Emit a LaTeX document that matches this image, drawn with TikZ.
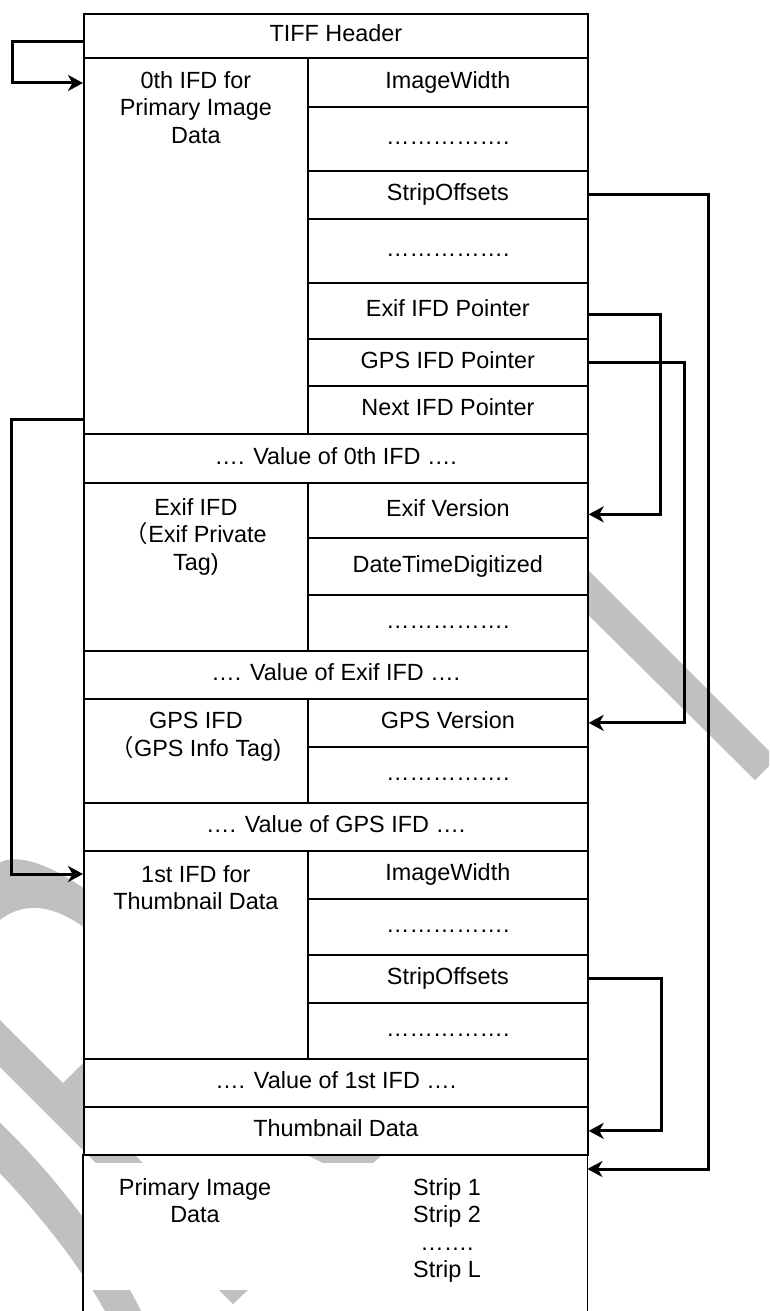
\documentclass[tikz,border=0pt]{standalone}
\usepackage{fontspec}
\setmainfont{Liberation Sans}
\newfontfamily\cjk{Noto Sans CJK SC}
\usetikzlibrary{arrows.meta,calc}
\definecolor{wmgray}{RGB}{192,192,192}
\newcommand\diagfont{\fontsize{23.4}{27.5}\selectfont}
\tikzset{
  boxline/.style={draw=black, line width=1.7pt},
  cell/.style={boxline, fill=white, inner sep=0pt, anchor=north west,
               text height=17pt, text depth=5pt, font=\diagfont},
  full/.style={cell, minimum width=504pt},
  lcol/.style={cell, minimum width=224pt},
  rcol/.style={cell, minimum width=280pt},
  ltext/.style={anchor=north, align=center, inner sep=0pt, font=\diagfont},
  conn/.style={draw=black, line width=3pt,
               -{Stealth[length=15pt,width=16pt,inset=4.5pt]}},
}
\begin{document}
\begin{tikzpicture}[x=1pt,y=-1pt]
\useasboundingbox (0,0) rectangle (769,1311);

% grey background marks
\fill[wmgray] (-5,866) .. controls (10,852) and (45,858) .. (100,900)
  -- (100,940) .. controls (60,905) and (25,897) .. (-5,924) -- cycle;
\fill[wmgray] (-10,1010) -- (160,1180) -- (160,1227) -- (-10,1057) -- cycle;
\fill[wmgray] (63,1083) -- (95,1051) -- (95,1115) -- cycle;
\fill[wmgray] (-5,1118) .. controls (40,1160) and (110,1240) .. (150,1330)
  -- (115,1330) .. controls (85,1270) and (40,1215) .. (-5,1168) -- cycle;
\fill[wmgray] (560,542) -- (769,751) -- (769,766) -- (755,780) -- (560,587) -- cycle;
\fill[wmgray] (297,1150) -- (388,1150) -- (373,1163) -- (323,1163) -- cycle;
\fill[wmgray] (219,1290) -- (248,1290) -- (233,1304) -- cycle;

% TIFF header and 0th IFD
\node[full, minimum height=44pt] (hdr) at (83,13) {TIFF Header};
\node[lcol, minimum height=376pt] (ifd0) at (83,57) {};
\node[rcol, minimum height=49pt] (iw0) at (307,57) {ImageWidth};
\node[rcol, minimum height=64pt] (d0a) at (307,106) {…………….};
\node[rcol, minimum height=48pt] (so0) at (307,170) {StripOffsets};
\node[rcol, minimum height=64pt] (d0b) at (307,218) {…………….};
\node[rcol, minimum height=56pt] (exifptr) at (307,282) {Exif IFD Pointer};
\node[rcol, minimum height=47pt] (gpsptr) at (307,338) {GPS IFD Pointer};
\node[rcol, minimum height=48pt] (nextptr) at (307,385) {Next IFD Pointer};
\node[full, minimum height=49pt] (val0) at (83,433) {…. Value of 0th IFD ….};

% Exif IFD
\node[lcol, minimum height=168pt] (exififd) at (83,482) {};
\node[rcol, minimum height=55pt] (exifver) at (307,482) {Exif Version};
\node[rcol, minimum height=57pt] (dtd) at (307,537) {DateTimeDigitized};
\node[rcol, minimum height=56pt] (d1) at (307,594) {…………….};
\node[full, minimum height=48pt] (valexif) at (83,650) {…. Value of Exif IFD ….};

% GPS IFD
\node[lcol, minimum height=104pt] (gpsifd) at (83,698) {};
\node[rcol, minimum height=48pt] (gpsver) at (307,698) {GPS Version};
\node[rcol, minimum height=56pt] (d2) at (307,746) {…………….};
\node[full, minimum height=48pt] (valgps) at (83,802) {…. Value of GPS IFD ….};

% 1st IFD
\node[lcol, minimum height=208pt] (ifd1) at (83,850) {};
\node[rcol, minimum height=48pt] (iw1) at (307,850) {ImageWidth};
\node[rcol, minimum height=56pt] (d3a) at (307,898) {…………….};
\node[rcol, minimum height=48pt] (so1) at (307,954) {StripOffsets};
\node[rcol, minimum height=56pt] (d3b) at (307,1002) {…………….};
\node[full, minimum height=48pt] (val1) at (83,1058) {…. Value of 1st IFD ….};
\node[full, minimum height=48pt] (thumb) at (83,1106) {Thumbnail Data};

% primary image data (open at the bottom)
\node[inner sep=0pt, anchor=north west, minimum width=504pt, minimum height=157pt] (prim) at (83,1154) {};
\fill[white] ($(prim.north west)+(0,9)$) rectangle ($(prim.north east)+(0,136)$);
\draw[boxline] (prim.north west) -- (prim.south west);
\draw[boxline] (prim.north east) -- (prim.south east);

% left column titles
\node[ltext] (ifd0t) at ($(ifd0.north)+(0,14)$) {0th IFD for\\Primary Image\\Data};
\node[ltext] (exift) at ($(exififd.north)+(0,16)$) {Exif IFD\\{\cjk （}Exif Private\\Tag)};
\node[ltext] (gpst) at ($(gpsifd.north)+(0,14)$) {GPS IFD\\{\cjk （}GPS Info Tag)};
\node[ltext] (ifd1t) at ($(ifd1.north)+(0,15)$) {1st IFD for\\Thumbnail Data};
\node[ltext] (primt) at ($(prim.north west)+(112,24)$) {Primary Image\\Data};
\node[ltext] (strips) at ($(prim.north west)+(364,24)$) {Strip 1\\Strip 2\\…….\\Strip L};

% offset pointers
\coordinate (hdrout) at ($(hdr.north west)+(0,29)$);
\coordinate (ifd0in) at ($(ifd0.north west)+(0,26)$);
\draw[conn] (hdrout) -- ++(-71,0) |- (ifd0in);
\coordinate (ifd0out) at ($(ifd0.south west)+(0,-15)$);
\coordinate (ifd1in) at ($(ifd1.north west)+(0,24)$);
\draw[conn] (ifd0out) -- ++(-72,0) |- (ifd1in);

\coordinate (primin) at ($(prim.north east)+(0,15)$);
\draw[conn] (so0.east) -- ++(120,0) |- (primin);
\draw[conn] ($(exifptr.east)+(0,4)$) -- ++(72,0) |- ($(exifver.east)+(0,4)$);
\draw[conn] (gpsptr.east) -- ++(96,0) |- (gpsver.east);
\draw[conn] (so1.east) -- ++(73,0) |- (thumb.east);
\end{tikzpicture}
\end{document}
